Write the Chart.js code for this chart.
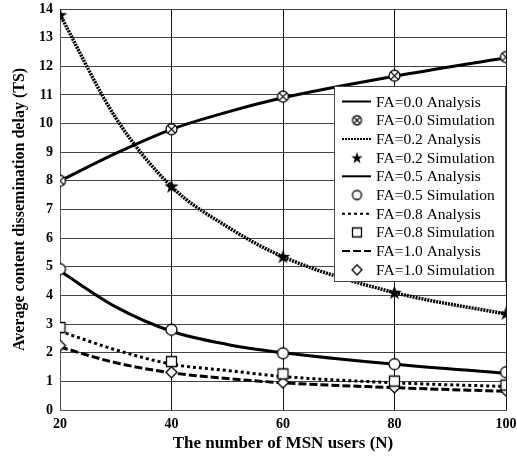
<!DOCTYPE html>
<html>
<head>
<meta charset="utf-8">
<script src="https://cdn.jsdelivr.net/npm/chart.js@4.4.1/dist/chart.umd.min.js"></script>
<style>
html, body { margin: 0; padding: 0; background: #fff; }
#wrap { width: 517px; height: 456px; }
</style>
</head>
<body>
<div id="wrap"><canvas id="delay-chart"></canvas></div>
<script>
// number of MSN users
const users = [20, 40, 60, 80, 100];
// analysis curves read at a few extra user counts
const usersAnalysis = [20, 30, 40, 50, 60, 80, 100];
const yRange = [0, 14];

const fa00Analysis = [8.0, 8.96, 9.8, 10.4, 10.9, 11.65, 12.3];
const fa00Sim      = [8.0, 9.8, 10.94, 11.67, 12.32];
const fa02Analysis = [13.8, 10.2, 7.8, 6.4, 5.35, 4.1, 3.35];
const fa02Sim      = [13.8, 7.82, 5.36, 4.11, 3.38];
const fa05Analysis = [4.85, 3.6, 2.75, 2.29, 2.0, 1.6, 1.28];
const fa05Sim      = [4.92, 2.8, 1.98, 1.6, 1.32];
const fa08Analysis = [2.75, 2.1, 1.6, 1.38, 1.17, 0.95, 0.82];
const fa08Sim      = [2.88, 1.69, 1.26, 1.01, 0.87];
const fa10Analysis = [2.2, 1.65, 1.3, 1.1, 0.95, 0.78, 0.65];
const fa10Sim      = [2.25, 1.32, 0.96, 0.79, 0.68];

const serif = '"Liberation Serif", "Times New Roman", serif';

function pts(xs, vals) {
    return vals.map((v, i) => ({x: xs[i], y: v}));
}

// marker images
function makeSymbol(kind, size) {
    const c = document.createElement('canvas');
    c.width = c.height = size + 4;
    const ctx = c.getContext('2d');
    const m = c.width / 2, r = size / 2;
    ctx.strokeStyle = '#000';
    ctx.fillStyle = '#fff';
    ctx.lineWidth = 1.3;
    ctx.beginPath();
    if (kind === 'otimes') {
        ctx.arc(m, m, r, 0, Math.PI * 2);
        ctx.fill(); ctx.stroke();
        const d = r * 0.7;
        ctx.beginPath();
        ctx.moveTo(m - d, m - d); ctx.lineTo(m + d, m + d);
        ctx.moveTo(m + d, m - d); ctx.lineTo(m - d, m + d);
        ctx.stroke();
    } else if (kind === 'star') {
        for (let i = 0; i < 10; i++) {
            const a = -Math.PI / 2 + i * Math.PI / 5;
            const rr = i % 2 === 0 ? r : r * 0.4;
            const px = m + rr * Math.cos(a), py = m + r * 0.1 + rr * Math.sin(a);
            if (i === 0) ctx.moveTo(px, py); else ctx.lineTo(px, py);
        }
        ctx.closePath();
        ctx.fillStyle = '#000';
        ctx.fill();
    } else if (kind === 'circle') {
        ctx.arc(m, m, r, 0, Math.PI * 2);
        ctx.fill(); ctx.stroke();
    } else if (kind === 'square') {
        ctx.rect(m - r + 0.5, m - r + 0.5, size - 1, size - 1);
        ctx.fill(); ctx.stroke();
    } else if (kind === 'diamond') {
        ctx.moveTo(m, m - r); ctx.lineTo(m + r, m); ctx.lineTo(m, m + r); ctx.lineTo(m - r, m);
        ctx.closePath();
        ctx.fill(); ctx.stroke();
    }
    return c;
}

function analysis(label, vals, dash, width) {
    return {
        label: label, data: pts(usersAnalysis, vals), borderColor: '#000', borderWidth: width,
        borderDash: dash, pointRadius: 0, fill: false,
        cubicInterpolationMode: 'monotone', order: 1
    };
}

function simulation(label, vals, kind, size, legendSize) {
    return {
        label: label, data: pts(users, vals), showLine: false,
        pointStyle: makeSymbol(kind, size), legendStyle: makeSymbol(kind, legendSize),
        borderColor: '#000', order: 0
    };
}

const datasets = [
    analysis('FA=0.0 Analysis', fa00Analysis, [], 3),
    simulation('FA=0.0 Simulation', fa00Sim, 'otimes', 11, 9),
    analysis('FA=0.2 Analysis', fa02Analysis, [2, 1], 3.5),
    simulation('FA=0.2 Simulation', fa02Sim, 'star', 15, 12),
    analysis('FA=0.5 Analysis', fa05Analysis, [], 3),
    simulation('FA=0.5 Simulation', fa05Sim, 'circle', 11, 9),
    analysis('FA=0.8 Analysis', fa08Analysis, [3, 3], 3),
    simulation('FA=0.8 Simulation', fa08Sim, 'square', 11, 10),
    analysis('FA=1.0 Analysis', fa10Analysis, [8, 3], 3),
    simulation('FA=1.0 Simulation', fa10Sim, 'diamond', 11, 10)
];

// legend box inside the plot, top right
const boxLegend = {
    id: 'boxLegend',
    afterDatasetsDraw(chart) {
        const ctx = chart.ctx, area = chart.chartArea;
        const w = 172, h = 196;
        const left = area.right - w, top = area.top + 77;
        ctx.save();
        ctx.fillStyle = '#fff';
        ctx.fillRect(left, top, w, h);
        ctx.strokeStyle = '#444';
        ctx.lineWidth = 1;
        ctx.strokeRect(left + 0.5, top + 0.5, w - 1, h - 1);
        ctx.font = '15.5px ' + serif;
        ctx.textBaseline = 'middle';
        ctx.fillStyle = '#000';
        chart.data.datasets.forEach((ds, i) => {
            const y = top + 15.5 + i * 18.7;
            if (ds.showLine === false) {
                const img = ds.legendStyle;
                ctx.drawImage(img, left + 23 - img.width / 2, y - img.height / 2);
            } else {
                ctx.beginPath();
                ctx.setLineDash(ds.borderDash || []);
                ctx.lineWidth = 2;
                ctx.strokeStyle = '#000';
                ctx.moveTo(left + 8, y);
                ctx.lineTo(left + 37, y);
                ctx.stroke();
                ctx.setLineDash([]);
            }
            ctx.fillText(ds.label, left + 42, y + 1);
        });
        ctx.restore();
    }
};

new Chart(document.getElementById('delay-chart'), {
    type: 'line',
    data: {datasets: datasets},
    plugins: [boxLegend],
    options: {
        responsive: true,
        maintainAspectRatio: false,
        animation: false,
        layout: {padding: 0},
        plugins: {legend: {display: false}, tooltip: {enabled: false}},
        scales: {
            x: {
                type: 'linear', min: users[0], max: users[users.length - 1],
                afterFit: s => { s.height = 46; s.paddingLeft = 0; s.paddingRight = 11; },
                grid: {display: true, color: '#111', lineWidth: 1, drawTicks: true, tickLength: 0},
                border: {display: true, color: '#555', width: 1},
                ticks: {
                    stepSize: 20, padding: 6, color: '#000',
                    font: {family: serif, size: 14, weight: 'bold'}
                },
                title: {
                    display: true, text: 'The number of MSN users (N)', color: '#000',
                    padding: {top: 0, bottom: 2},
                    font: {family: serif, size: 17, weight: 'bold'}
                }
            },
            y: {
                type: 'linear', min: yRange[0], max: yRange[1],
                afterFit: s => { s.width = 60; s.paddingTop = 9; s.paddingBottom = 0; },
                grid: {display: true, color: '#444', lineWidth: 1, drawTicks: true, tickLength: 0},
                border: {display: true, color: '#555', width: 1},
                ticks: {
                    stepSize: 1, maxTicksLimit: 20, padding: 7, color: '#000',
                    font: {family: serif, size: 14, weight: 'bold'}
                },
                title: {
                    display: true, text: 'Average content dissemination delay (TS)', color: '#000',
                    padding: {top: 10, bottom: 0},
                    font: {family: serif, size: 16, weight: 'bold'}
                }
            }
        }
    }
});
</script>
</body>
</html>
